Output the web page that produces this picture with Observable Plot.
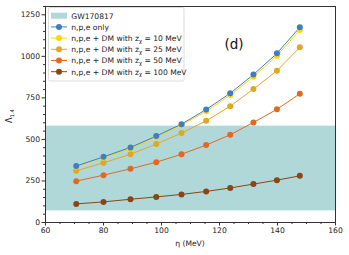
<!DOCTYPE html>
<html><head><meta charset="utf-8">
<script src="https://cdn.jsdelivr.net/npm/d3@7"></script>
<script src="https://cdn.jsdelivr.net/npm/@observablehq/plot@0.6"></script>
<style>body{margin:0;background:#fff}#chart{position:relative;width:349px;height:255px}</style>
</head><body><div id="chart"></div>
<script>
const eta = [70.6, 80.0, 89.3, 98.2, 106.9, 115.4, 123.7, 131.7, 139.8, 147.7];
const npeOnly = [340, 395, 452, 520, 592, 680, 778, 890, 1018, 1175];
const dm10 = [335, 389, 446, 512, 586, 669, 767, 877, 1004, 1158];
const dm25 = [311, 359, 411, 472, 538, 612, 700, 803, 913, 1054];
const dm50 = [249, 285, 323, 363, 411, 466, 528, 602, 681, 775];
const dm100 = [112, 124, 140, 154, 169, 187, 208, 231, 255, 281];
const seriesNames = ["n,p,e only", "10", "25", "50", "100"];
const seriesColors = ["#3f7fc0", "#ffd60a", "#e0a820", "#e06a22", "#8b4513"];
const gwBand = [70, 580];
const xTicks = [60, 80, 100, 120, 140, 160];
const yTicks = [0, 250, 500, 750, 1000, 1250];

const allSeries = [npeOnly, dm10, dm25, dm50, dm100];
const rows = [];
allSeries.forEach((vals, s) => vals.forEach((v, i) => rows.push({s, x: eta[i], y: v})));
const xMinor = d3.range(60, 161, 5).filter(v => !xTicks.includes(v));
const yMinor = d3.range(0, 1301, 50).filter(v => !yTicks.includes(v));
const fs = 7.6;

const plot = Plot.plot({
  width: 349, height: 255,
  marginLeft: 45, marginRight: 14, marginTop: 6, marginBottom: 33,
  style: {fontFamily: "DejaVu Sans", fontSize: fs + "px", color: "#222", background: "#fff"},
  x: {domain: [60, 160]},
  y: {domain: [0, 1300]},
  marks: [
    Plot.rect([{y1: gwBand[0], y2: gwBand[1]}], {y1: "y1", y2: "y2", fill: "#b0d8d8"}),
    ...[4, 3, 2, 1, 0].map(s => Plot.line(rows.filter(r => r.s === s), {x: "x", y: "y", stroke: seriesColors[s], strokeWidth: 1})),
    ...[4, 3, 2, 1, 0].map(s => Plot.dot(rows.filter(r => r.s === s), {x: "x", y: "y", fill: seriesColors[s], r: 3})),
    Plot.axisX({ticks: xTicks, tickSize: 3.5, tickPadding: 2, tickFormat: d => String(d), label: null, stroke: "#333"}),
    Plot.axisX({ticks: xMinor, tickSize: 2, tickFormat: () => "", label: null, stroke: "#333"}),
    Plot.axisY({ticks: yTicks, tickSize: 3.5, tickPadding: 2, tickFormat: d => String(d), label: null, stroke: "#333"}),
    Plot.axisY({ticks: yMinor, tickSize: 2, tickFormat: () => "", label: null, stroke: "#333"}),
    Plot.text(["(d)"], {x: () => 125, y: () => 1068, fontSize: 13.5, fill: "#111"}),
    Plot.frame({stroke: "#333", strokeWidth: 1})
  ]
});
document.getElementById("chart").appendChild(plot);

const svg = d3.select(plot);
// axis labels
const yl = svg.append("text").attr("transform", "translate(12,116) rotate(-90)")
  .attr("text-anchor", "middle").attr("font-size", fs + 0.4).attr("fill", "#222");
yl.append("tspan").text("Λ");
yl.append("tspan").attr("font-size", fs * 0.7).attr("dy", 2).text("1.4");
svg.append("text").attr("x", 190).attr("y", 246).attr("text-anchor", "middle")
  .attr("font-size", fs).attr("fill", "#222").text("η (MeV)");

// legend
const lg = svg.append("g").attr("text-anchor", "start");
lg.append("rect").attr("x", 48.5).attr("y", 7.5).attr("width", 135.5).attr("height", 73.5)
  .attr("fill", "#fff").attr("fill-opacity", 0.85).attr("stroke", "#ddd").attr("rx", 1.5);
const rowY = [15.7, 26.9, 38.1, 49.3, 60.5, 71.7];
lg.append("rect").attr("x", 51).attr("y", rowY[0] - 3).attr("width", 16).attr("height", 6).attr("fill", "#b0d8d8");
lg.append("text").attr("x", 71.3).attr("y", rowY[0] + 2.8).attr("text-anchor", "start").attr("font-size", fs).attr("fill", "#222").text("GW170817");
seriesNames.forEach((name, s) => {
  const y = rowY[s + 1];
  lg.append("line").attr("x1", 51).attr("x2", 67).attr("y1", y).attr("y2", y).attr("stroke", seriesColors[s]);
  lg.append("circle").attr("cx", 59).attr("cy", y).attr("r", 3).attr("fill", seriesColors[s]);
  const t = lg.append("text").attr("x", 71.3).attr("y", y + 2.8).attr("text-anchor", "start").attr("font-size", fs).attr("fill", "#222");
  if (s === 0) t.text(name);
  else {
    t.append("tspan").text("n,p,e + DM with z");
    t.append("tspan").attr("font-size", fs * 0.7).attr("dy", 1.8).text("χ");
    t.append("tspan").attr("dy", -1.8).text(" = " + name + " MeV");
  }
});
</script></body></html>
